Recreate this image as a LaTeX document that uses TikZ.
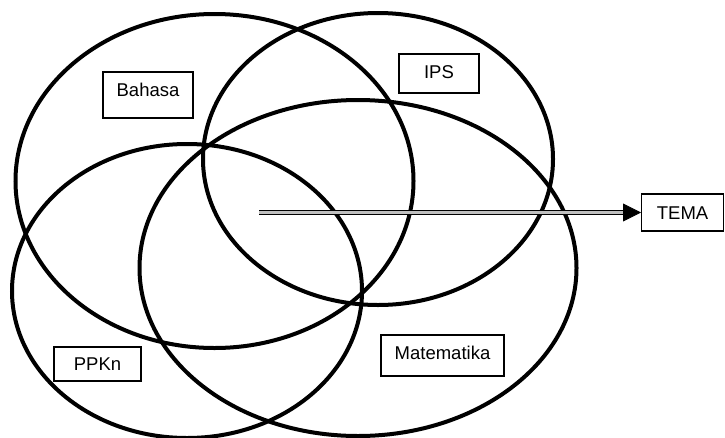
\documentclass[tikz,border=0pt]{standalone}
\usepackage{fontspec}
\setmainfont{Liberation Sans}
\usetikzlibrary{arrows.meta}
\begin{document}
\begin{tikzpicture}[x=1pt,y=-1pt,
  ring/.style={line width=4pt, draw=black},
  lbox/.style={draw=black, line width=1.2pt, inner sep=0pt, text height=13.2pt,
    font=\fontsize{18.5}{22}\selectfont},
  dbl/.style={double=white!75!black, double distance=2.2pt, line width=1.4pt},
  tip/.style={-{Triangle[length=18pt,width=18pt]}, line width=0.8pt}
]
\useasboundingbox (0,0) rectangle (725,437);
% ellipses
\draw[ring] (214.5,181) ellipse (199 and 167);
\draw[ring] (378,159) ellipse (175 and 146);
\draw[ring] (187,291) ellipse (175 and 147);
\draw[ring] (358,268) ellipse (218.5 and 168);
% boxes
\node[lbox, minimum width=90pt, minimum height=46pt, text depth=9.4pt] (bahasa) at (148,95) {Bahasa};
\node[lbox, minimum width=80pt, minimum height=39pt, text depth=3pt] (ips) at (439,73.5) {IPS};
\node[lbox, minimum width=87pt, minimum height=34pt, text depth=0pt] (ppkn) at (97.5,364) {PPKn\hspace{14pt}};
\node[lbox, minimum width=123pt, minimum height=41pt, text depth=6pt] (mat) at (442.5,355.5) {Matematika};
\node[lbox, minimum width=82pt, minimum height=37pt, text depth=0pt, anchor=west] (tema) at (641,212.5) {TEMA\hspace{5pt}};
% arrow
\coordinate (start) at (259,212.5);
\draw[dbl] (start) -- ([xshift=-17pt]tema.west);
\draw[tip] ([xshift=-18pt]tema.west) -- (tema.west);
\end{tikzpicture}
\end{document}
